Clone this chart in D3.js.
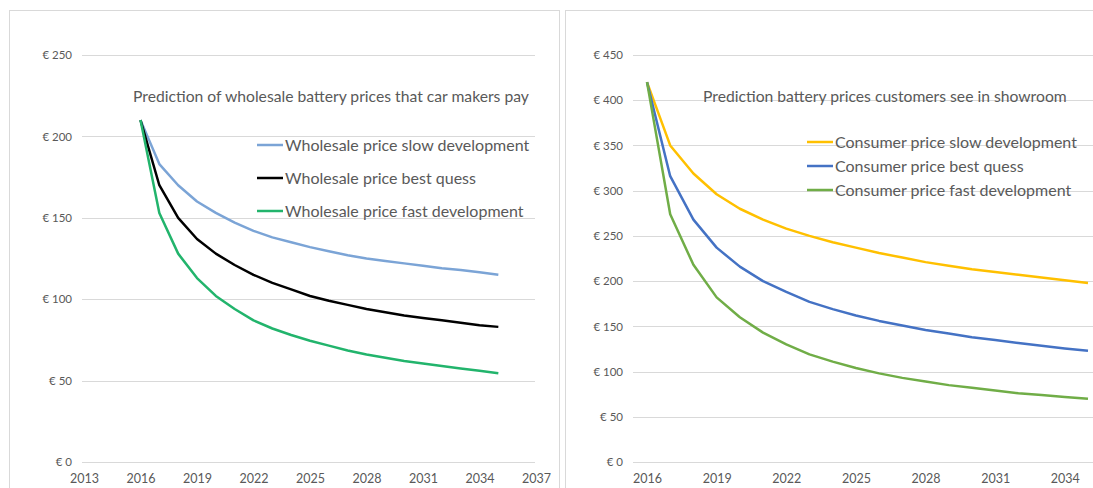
<!DOCTYPE html>
<html>
<head>
<meta charset="utf-8">
<script src="https://cdn.jsdelivr.net/npm/d3@7"></script>
<style>
  body { margin: 0; background: #fff; }
  svg { display: block; font-family: Lato, "Open Sans", sans-serif; }
  .tick text { fill: #595959; }
</style>
</head>
<body>
<script>
// data
const years = d3.range(2016, 2036);

const wholesaleSlow = [210, 183, 170, 160, 153, 147, 142, 138, 135, 132, 129.5, 127, 125, 123.5, 122, 120.5, 119, 118, 116.5, 115];
const wholesaleBest = [210, 170, 150, 137, 128, 121, 115, 110, 106, 102, 99, 96.5, 94, 92, 90, 88.5, 87, 85.5, 84, 83];
const wholesaleFast = [210, 153, 128, 113, 102, 94, 87, 82, 78, 74.5, 71.5, 68.5, 66, 64, 62, 60.5, 59, 57.5, 56, 54.5];

const consumerSlow = [420, 350, 319, 296, 280, 268, 258, 250, 243, 237, 231, 226, 221, 217, 213, 210, 207, 204, 201, 198];
const consumerBest = [420, 316, 268, 237, 216, 200, 188, 177, 169, 162, 156, 151, 146, 142, 138, 135, 131.5, 128.5, 125.5, 123];
const consumerFast = [420, 274, 218, 182, 160, 143, 130, 119, 111, 104, 98, 93, 89, 85, 82, 79, 76, 74, 72, 70];

const leftYTicks = [0, 50, 100, 150, 200, 250];
const leftXTicks = [2013, 2016, 2019, 2022, 2025, 2028, 2031, 2034, 2037];
const rightYTicks = [0, 50, 100, 150, 200, 250, 300, 350, 400, 450];
const rightXTicks = [2016, 2019, 2022, 2025, 2028, 2031, 2034];

const leftSeries = [
  { name: 'Wholesale price slow development', values: wholesaleSlow, color: '#7ba4d6' },
  { name: 'Wholesale price best quess', values: wholesaleBest, color: '#000000' },
  { name: 'Wholesale price fast development', values: wholesaleFast, color: '#22b46c' }
];
const rightSeries = [
  { name: 'Consumer price slow development', values: consumerSlow, color: '#ffc000' },
  { name: 'Consumer price best quess', values: consumerBest, color: '#4472c4' },
  { name: 'Consumer price fast development', values: consumerFast, color: '#70ad47' }
];

const width = 1093, height = 488;
const euro = d => '€ ' + d;

const svg = d3.select('body').append('svg')
  .attr('width', width)
  .attr('height', height);

/* panel frames */
svg.append('rect')
  .attr('x', 9.5).attr('y', 10.5)
  .attr('width', 550).attr('height', 500)
  .attr('fill', 'none').attr('stroke', '#d9d9d9');
svg.append('rect')
  .attr('x', 565.5).attr('y', 10.5)
  .attr('width', 600).attr('height', 500)
  .attr('fill', 'none').attr('stroke', '#d9d9d9');

function drawChart(opts) {
  const g = svg.append('g');

  const x = d3.scaleLinear().domain(opts.xDomain).range(opts.xRange);
  const y = d3.scaleLinear().domain([0, opts.yMax]).range([462, 55]);

  // gridlines
  g.append('g')
    .selectAll('line')
    .data(opts.yTicks)
    .enter().append('line')
    .attr('x1', opts.gridX[0]).attr('x2', opts.gridX[1])
    .attr('y1', d => Math.round(y(d)) + 0.5)
    .attr('y2', d => Math.round(y(d)) + 0.5)
    .attr('stroke', '#d9d9d9');

  // y axis labels
  const yAxis = d3.axisLeft(y)
    .tickValues(opts.yTicks)
    .tickFormat(euro)
    .tickSize(0)
    .tickPadding(0);
  g.append('g')
    .attr('transform', `translate(${opts.yLabelX},0)`)
    .call(yAxis)
    .call(a => a.select('.domain').remove())
    .selectAll('text')
    .attr('font-size', 11.5)
    .attr('font-family', 'Lato, sans-serif');

  // x axis labels
  const xAxis = d3.axisBottom(x)
    .tickValues(opts.xTicks)
    .tickFormat(d3.format('d'))
    .tickSize(0)
    .tickPadding(0);
  g.append('g')
    .attr('transform', 'translate(0,474)')
    .call(xAxis)
    .call(a => a.select('.domain').remove())
    .selectAll('text')
    .attr('font-size', 12.5)
    .attr('font-family', 'Lato, sans-serif');

  // lines
  const line = d3.line()
    .x((d, i) => x(years[i]))
    .y(d => y(d));

  g.append('g')
    .selectAll('path')
    .data(opts.series)
    .enter().append('path')
    .attr('d', d => line(d.values))
    .attr('fill', 'none')
    .attr('stroke', d => d.color)
    .attr('stroke-width', 2.5)
    .attr('stroke-linejoin', 'round');

  // title
  g.append('text')
    .attr('x', opts.titleX).attr('y', 102)
    .attr('fill', '#595959')
    .attr('font-size', 15.7)
    .text(opts.title);

  // legend
  const legend = g.append('g')
    .selectAll('g')
    .data(opts.series)
    .enter().append('g')
    .attr('transform', (d, i) => `translate(${opts.legendX},${opts.legendY + i * opts.legendStep})`);
  legend.append('line')
    .attr('x1', 0).attr('x2', 26)
    .attr('stroke', d => d.color)
    .attr('stroke-width', 2.5);
  legend.append('text')
    .attr('x', 28).attr('dy', '0.35em')
    .attr('fill', '#595959')
    .attr('font-size', 16)
    .text(d => d.name);
}

drawChart({
  series: leftSeries,
  xDomain: [2013, 2037], xRange: [84, 536],
  gridX: [82, 535],
  yMax: 250, yTicks: leftYTicks, xTicks: leftXTicks,
  yLabelX: 72,
  title: 'Prediction of wholesale battery prices that car makers pay',
  titleX: 133,
  legendX: 257, legendY: 145, legendStep: 33
});

drawChart({
  series: rightSeries,
  xDomain: [2016, 2035], xRange: [647, 1088],
  gridX: [633, 1093],
  yMax: 450, yTicks: rightYTicks, xTicks: rightXTicks,
  yLabelX: 623,
  title: 'Prediction battery prices customers see in showroom',
  titleX: 703,
  legendX: 807, legendY: 142, legendStep: 24
});
</script>
</body>
</html>
